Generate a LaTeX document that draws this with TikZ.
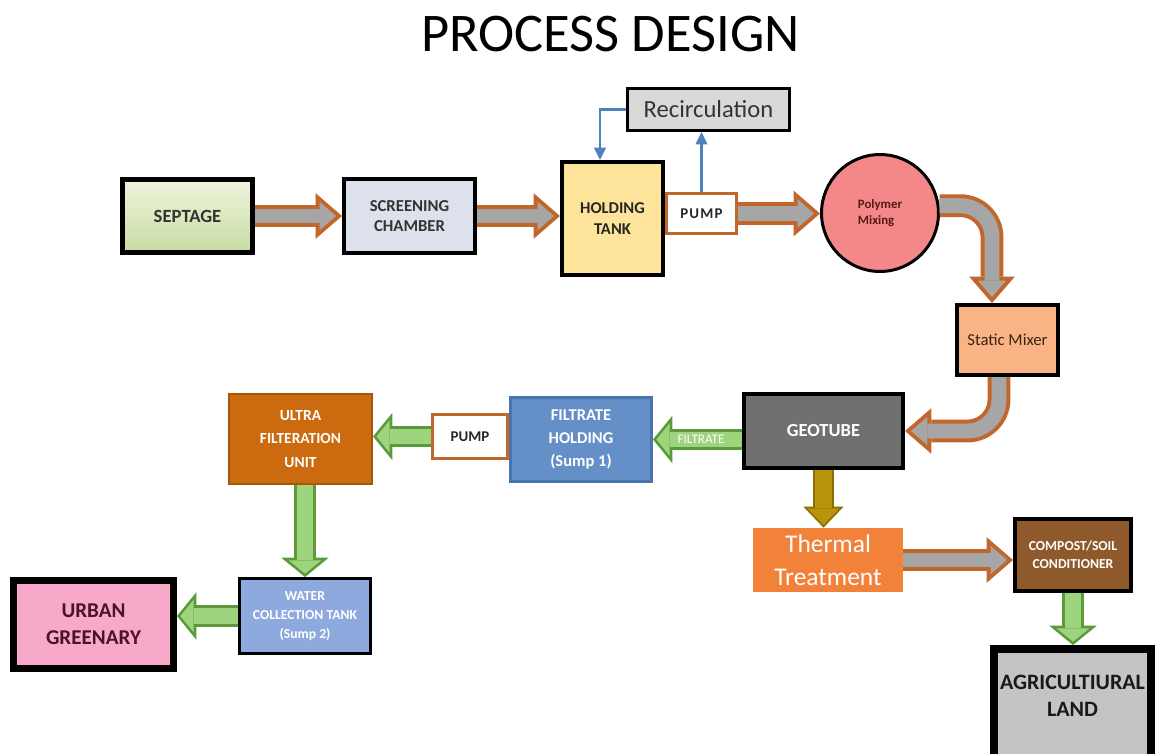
\documentclass[tikz,border=0pt]{standalone}
\usepackage{fontspec}
\setmainfont{Carlito}
\usepackage{xcolor}
\usepackage{tikz}
\usetikzlibrary{arrows.meta}

\newcommand{\txtsize}[2]{\fontsize{#1}{#2}\selectfont}

\definecolor{arrbrown}{HTML}{C2672C}
\definecolor{arrgray}{HTML}{A6A6A6}
\definecolor{grnedge}{HTML}{5A9A3A}
\definecolor{grnfill}{HTML}{9FD47F}
\definecolor{olvedge}{HTML}{8A6D00}
\definecolor{olvfill}{HTML}{B8930B}
\definecolor{recblue}{HTML}{4F81BD}
\definecolor{septop}{HTML}{EEF4DC}
\definecolor{sepbot}{HTML}{C8DCA3}
\definecolor{scrfill}{HTML}{DDE1EB}
\definecolor{holdfill}{HTML}{FDE49A}
\definecolor{pumpedge}{HTML}{C2672C}
\definecolor{recfill}{HTML}{D9D9D9}
\definecolor{polyfill}{HTML}{F4878A}
\definecolor{polytext}{HTML}{5A1A10}
\definecolor{statfill}{HTML}{F9B385}
\definecolor{stattext}{HTML}{3A2410}
\definecolor{geofill}{HTML}{707070}
\definecolor{filtfill}{HTML}{6590C7}
\definecolor{filtedge}{HTML}{4A74AC}
\definecolor{ultrafill}{HTML}{CC6A10}
\definecolor{ultraedge}{HTML}{A85508}
\definecolor{waterfill}{HTML}{8DA9DE}
\definecolor{urbanfill}{HTML}{F8A8C8}
\definecolor{urbantext}{HTML}{4A1424}
\definecolor{thermfill}{HTML}{F2823A}
\definecolor{compfill}{HTML}{8E5A2C}
\definecolor{agrifill}{HTML}{C4C4C4}

\begin{document}
\begin{tikzpicture}[x=0.02cm, y=-0.02cm,
  unit/.style={draw=black, rectangle, inner sep=0pt, align=center},
  barr/.style={line width=13pt, draw=arrbrown,
    -{Triangle[length=15pt, width=26pt, line width=0pt]},
    postaction={draw=arrgray, line width=8.5pt, shorten >=3.44pt,
      -{Triangle[length=9.3pt, width=16.1pt, line width=0pt]}}},
  garr/.style={line width=12pt, draw=grnedge,
    -{Triangle[length=11pt, width=27pt, line width=0pt]},
    postaction={draw=grnfill, line width=9pt, shorten >=1.94pt,
      -{Triangle[length=7.56pt, width=18.6pt, line width=0pt]}}},
  oarr/.style={line width=12pt, draw=olvedge,
    -{Triangle[length=12pt, width=23pt, line width=0pt]},
    postaction={draw=olvfill, line width=10pt, shorten >=1.45pt,
      -{Triangle[length=9.55pt, width=18.3pt, line width=0pt]}}},
  recarr/.style={draw=recblue, line width=1.4pt, -{Triangle[length=7pt, width=6.5pt]}}]
\useasboundingbox (0,0) rectangle (1157,754);
\node[font=\txtsize{31}{37}] (title) at (610.5,34) {PROCESS DESIGN};
% ---- top row: septage to polymer mixing ----
\node[unit, line width=2.8pt, top color=septop, bottom color=sepbot,
  minimum width=2.60cm, minimum height=1.46cm, text=black!80,
  font=\txtsize{10.6}{12.7}\bfseries] (septage) at (187.5,216) {SEPTAGE};
\node[unit, line width=2.3pt, fill=scrfill, minimum width=2.62cm, minimum height=1.48cm,
  text=black!80, font=\txtsize{9.5}{11.5}\bfseries] (screen) at (409.5,216) {SCREENING\\CHAMBER};
\node[unit, draw=pumpedge, line width=1.7pt, fill=white, minimum width=1.40cm,
  minimum height=0.80cm, text=black!85,
  font=\txtsize{8.5}{10}\bfseries\addfontfeature{LetterSpace=8}] (pumpa) at (701.5,213.5) {PUMP};
\node[unit, line width=2.3pt, fill=holdfill, minimum width=2.02cm, minimum height=2.26cm,
  text=black!85, font=\txtsize{9.4}{11.5}\bfseries] (hold) at (612.5,218.5) {HOLDING\\TANK};
\node[unit, line width=1.7pt, fill=recfill, minimum width=3.24cm, minimum height=0.84cm,
  text=black!80, font=\txtsize{14}{17}] (recirc) at (708.5,109.5) {Recirculation};
\node[circle, draw=black, line width=1.7pt, fill=polyfill, minimum size=2.34cm, inner sep=0pt,
  align=left, text=polytext, font=\txtsize{7.3}{9.5}\bfseries] (poly) at (880,213) {Polymer\\Mixing};
\node[unit, line width=2.3pt, fill=statfill, minimum width=2.02cm, minimum height=1.40cm,
  text=stattext, font=\txtsize{9.5}{11}] (static) at (1007.5,340) {Static Mixer};
% ---- middle row: geotube and filtrate ----
\node[unit, line width=2.3pt, fill=geofill, minimum width=3.18cm, minimum height=1.48cm,
  text=white, font=\txtsize{10.5}{12}\bfseries] (geo) at (823.5,431) {GEOTUBE};
\node[unit, draw=pumpedge, line width=1.7pt, fill=white, minimum width=1.50cm,
  minimum height=0.88cm, text=black!85, font=\txtsize{8.5}{10}\bfseries] (pumpb) at (470,436.5) {PUMP};
\node[unit, draw=filtedge, line width=1.7pt, fill=filtfill, minimum width=2.82cm,
  minimum height=1.68cm, text=white, font=\txtsize{9.4}{13}\bfseries] (filt) at (581,439.5)
  {FILTRATE\\HOLDING\\(Sump 1)};
\node[unit, draw=ultraedge, line width=1.2pt, fill=ultrafill, minimum width=2.86cm,
  minimum height=1.80cm, text=white, font=\txtsize{8.8}{13.5}\bfseries] (ultra) at (300.5,439)
  {ULTRA\\FILTERATION\\UNIT};
% ---- bottom row ----
\node[unit, line width=1.7pt, fill=waterfill, minimum width=2.62cm, minimum height=1.50cm,
  text=white, font=\txtsize{7.8}{10.8}\bfseries] (water) at (305,616)
  {WATER\\COLLECTION TANK\\(Sump 2)};
\node[unit, line width=4pt, fill=urbanfill, minimum width=3.20cm, minimum height=1.76cm,
  text=urbantext, font=\txtsize{12}{15.5}\bfseries] (urban) at (93.5,624.5) {URBAN\\GREENARY};
\node[rectangle, inner sep=0pt, align=center, fill=thermfill, minimum width=3.00cm,
  minimum height=1.28cm, text=white, font=\txtsize{14.5}{19}] (thermal) at (828,560)
  {Thermal\\Treatment};
\node[unit, line width=2.3pt, fill=compfill, minimum width=2.32cm, minimum height=1.44cm,
  text=white, font=\txtsize{7.8}{10.5}\bfseries] (compost) at (1073,555)
  {COMPOST/SOIL\\CONDITIONER};
\node[unit, line width=4.5pt, fill=agrifill, minimum width=3.14cm, minimum height=2.40cm,
  label={[yshift=0.26cm, align=center, text=black!90, font=\txtsize{12.5}{15.3}\bfseries]%
  center:{AGRICULTIURAL\\LAND}}] (agri) at (1072.5,709) {};
% ---- sludge line ----
\draw[barr] (septage.east) -- (screen.west);
\draw[barr] (screen.east) -- (screen.east -| hold.west);
\draw[barr] (pumpa.east) -- (pumpa.east -| poly.west);
\draw[barr, rounded corners=18pt] (poly.7) -| ([xshift=-0.31cm]static.north);
\draw[barr, rounded corners=18pt] ([xshift=-0.17cm]static.south) |- (geo.east);
\draw[oarr] (geo.south) -- (geo.south |- thermal.north);
\draw[barr] (thermal.east) -- (thermal.east -| compost.west);
\draw[garr] (compost.south) -- (compost.south |- agri.north);
% ---- filtrate line ----
\draw[garr] (geo.west |- filt.east) -- node[pos=0.46, text=white, font=\txtsize{7.5}{9}]
  (ftlab) {FILTRATE} (filt.east);
\draw[garr] (pumpb.west) -- (pumpb.west -| ultra.east);
\draw[garr] (water.north |- ultra.south) -- (water.north);
\draw[garr] (water.west) -- (water.west -| urban.east);
% ---- recirculation loop ----
\draw[recarr] (recirc.west) -| ([xshift=-0.25cm]hold.north);
\draw[recarr] (pumpa.north) -- (pumpa.north |- recirc.south);
\end{tikzpicture}
\end{document}
